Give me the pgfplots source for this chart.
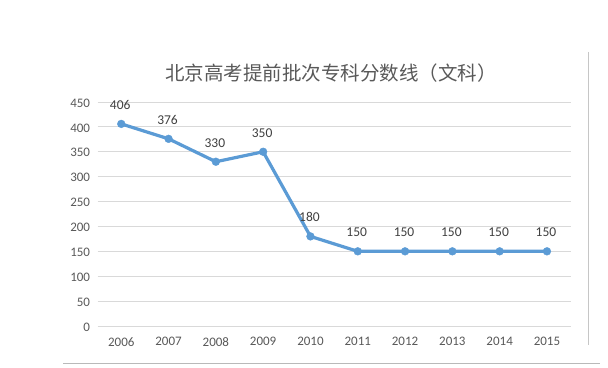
\documentclass[border=0pt]{standalone}
\usepackage{pgfplots}
\pgfplotsset{compat=1.18}
\usepackage{fontspec}
\setmainfont{Carlito}
\newfontfamily\cjk{Noto Sans CJK SC}
\definecolor{txt}{HTML}{595959}
\definecolor{lbl}{HTML}{404040}
\definecolor{grid}{HTML}{D9D9D9}
\definecolor{line}{HTML}{5B9BD5}
\begin{document}
\begin{tikzpicture}[x=1pt,y=1pt]
\useasboundingbox[fill=white] (0,0) rectangle (608,367);
\draw[color=gray!45, line width=0.8pt] (588,315) -- (588,22);
\draw[color=gray!55, line width=1pt] (63,4) -- (600,4);
\node[font={\cjk\fontsize{19.5}{21}\selectfont}, text=txt] at (331,294) {北京高考提前批次专科分数线（文科）};
\begin{axis}[
  at={(97.6pt,41pt)}, anchor=south west, scale only axis,
  width=473pt, height=224pt,
  xmin=-0.5, xmax=9.5, ymin=0, ymax=450,
  xtick={0,...,9}, xticklabels={2006,2007,2008,2009,2010,2011,2012,2013,2014,2015},
  ytick={0,50,...,450},
  ymajorgrids, grid style={draw=grid, line width=0.9pt},
  axis line style={draw=none}, major tick length=0pt,
  /pgf/number format/assume math mode=true,
  tick label style={font=\fontsize{13}{15}\selectfont, text=txt},
  xticklabel style={yshift=-8pt},
  yticklabel style={xshift=-4pt, yshift=-1pt},
  clip=false,
]
\addplot[color=line, line width=3.2pt, mark=*, mark size=3.9pt, mark options={solid, fill=line, draw=line, line width=0.4pt},
  nodes near coords, point meta=explicit symbolic,
  every node near coord/.append style={anchor=center, yshift=19pt, xshift=-1pt, font=\fontsize{13.5}{15}\selectfont, text=lbl}]
  table[meta=label] {
x y label
0 406 406
1 376 376
2 330 330
3 350 350
4 180 180
5 150 150
6 150 150
7 150 150
8 150 150
9 150 150
};
\end{axis}
\end{tikzpicture}
\end{document}
